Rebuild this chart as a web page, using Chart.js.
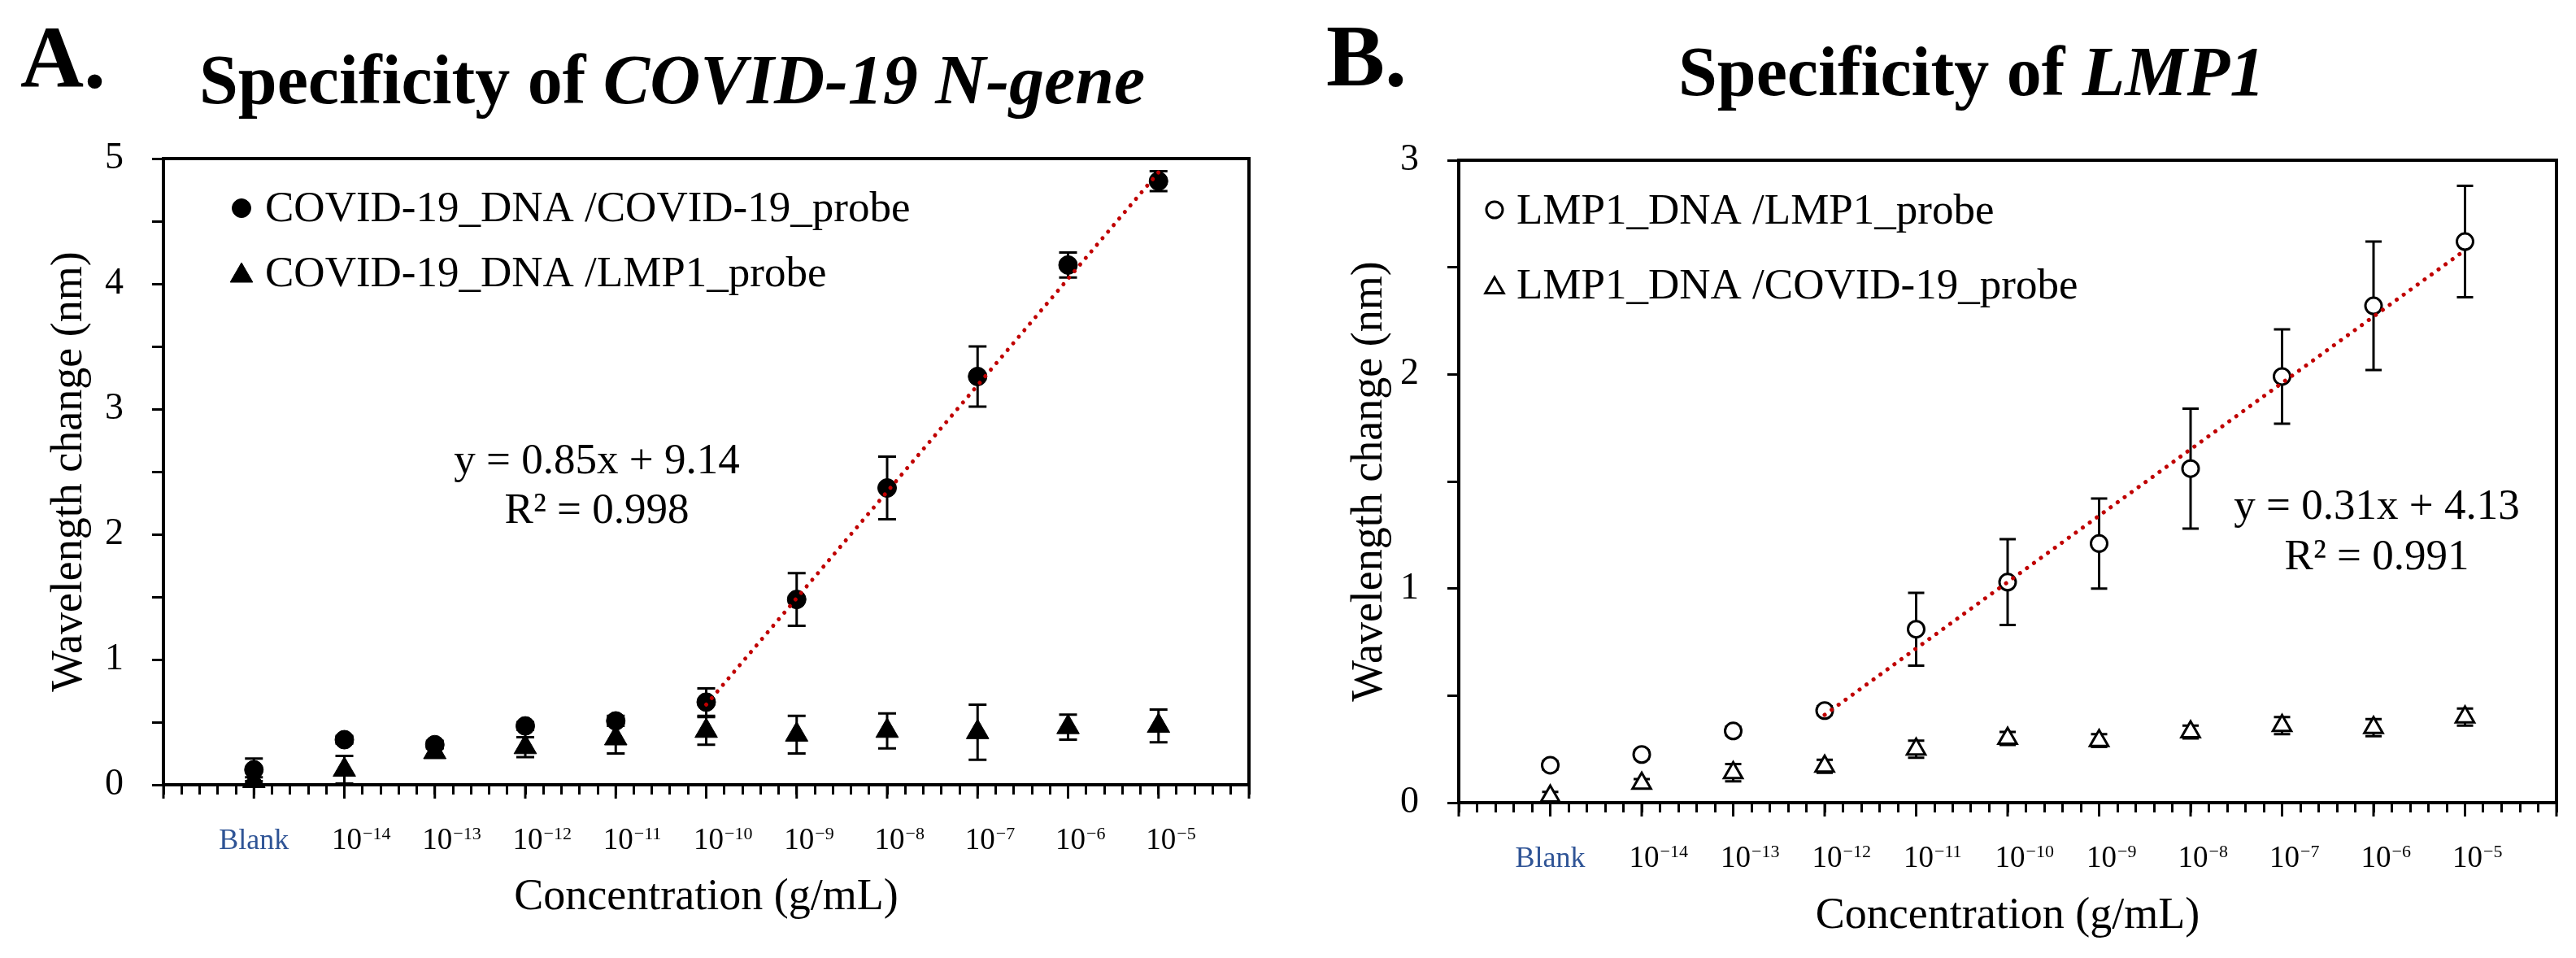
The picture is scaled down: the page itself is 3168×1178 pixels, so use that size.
<!DOCTYPE html>
<html>
<head>
<meta charset="utf-8">
<script src="https://cdn.jsdelivr.net/npm/chart.js@4.4.0/dist/chart.umd.min.js"></script>
<style>
  html, body { margin: 0; padding: 0; background: #fff; }
  #wrap { display: flex; width: 3168px; height: 1178px; }
  canvas { display: block; }
</style>
</head>
<body>
<div id="wrap">
  <canvas id="chartA" width="1584" height="1178"></canvas>
  <canvas id="chartB" width="1584" height="1178"></canvas>
</div>
<script>
const FONT = "'Liberation Serif', 'Times New Roman', Times, serif";

// x categories (index 0..10) and their log10 concentration
const categories = ['Blank', '10^-14', '10^-13', '10^-12', '10^-11', '10^-10', '10^-9', '10^-8', '10^-7', '10^-6', '10^-5'];
const logConc = [null, -14, -13, -12, -11, -10, -9, -8, -7, -6, -5];

// panel A: COVID-19 DNA
const covidCovid    = [0.12, 0.36, 0.32, 0.47, 0.51, 0.66, 1.48, 2.37, 3.26, 4.15, 4.82];
const covidCovidErr = [0.09, 0.03, 0.03, 0.03, 0.04, 0.11, 0.21, 0.25, 0.24, 0.10, 0.08];
const covidLmp1     = [0.03, 0.12, 0.26, 0.30, 0.37, 0.43, 0.40, 0.43, 0.42, 0.46, 0.47];
const covidLmp1Err  = [0.03, 0.11, 0.04, 0.08, 0.12, 0.11, 0.15, 0.14, 0.22, 0.10, 0.13];
const fitCovid = [0.85, 9.14, 0.998];   // slope, intercept, R²
const fitRangeCovid = [5, 10];

// panel B: LMP1 DNA
const lmp1Lmp1     = [0.175, 0.225, 0.335, 0.43, 0.81, 1.03, 1.21, 1.56, 1.99, 2.32, 2.62];
const lmp1Lmp1Err  = [0.02, 0.02, 0.02, 0.02, 0.17, 0.20, 0.21, 0.28, 0.22, 0.30, 0.26];
const lmp1Covid    = [0.03, 0.09, 0.14, 0.17, 0.25, 0.30, 0.29, 0.33, 0.36, 0.35, 0.40];
const lmp1CovidErr = [0.02, 0.02, 0.04, 0.03, 0.04, 0.03, 0.03, 0.03, 0.04, 0.04, 0.04];
const fitLmp1 = [0.31, 4.13, 0.991];
const fitRangeLmp1 = [3, 10];

function points(values) {
  return values.map((v, i) => ({x: i, y: v}));
}

function trend(fit, range) {
  return range.map(i => ({x: i, y: fit[0] * logConc[i] + fit[1]}));
}

function panelPlugin(cfg) {
  return {
    id: 'panel' + cfg.letter,
    beforeDatasetsDraw(chart) {
      const ctx = chart.ctx;
      const y = chart.scales.y;
      ctx.save();
      ctx.strokeStyle = '#000';
      ctx.lineWidth = 3;
      chart.data.datasets.forEach((ds, di) => {
        if (!ds.errors) return;
        chart.getDatasetMeta(di).data.forEach((pt, i) => {
          const v = ds.data[i].y, e = ds.errors[i];
          const top = y.getPixelForValue(v + e), bot = y.getPixelForValue(v - e);
          ctx.beginPath();
          ctx.moveTo(pt.x, top); ctx.lineTo(pt.x, bot);
          ctx.moveTo(pt.x - cfg.cap, top); ctx.lineTo(pt.x + cfg.cap, top);
          ctx.moveTo(pt.x - cfg.cap, bot); ctx.lineTo(pt.x + cfg.cap, bot);
          ctx.stroke();
        });
      });
      ctx.restore();
    },
    afterDraw(chart) {
      const {ctx, chartArea: a} = chart;
      const x = chart.scales.x;
      ctx.save();

      // frame top + right
      ctx.strokeStyle = '#000';
      ctx.lineWidth = 4;
      ctx.beginPath();
      ctx.moveTo(a.left - 2, a.top);
      ctx.lineTo(a.right, a.top);
      ctx.lineTo(a.right, a.bottom + 2);
      ctx.stroke();

      // longer ticks at each category
      ctx.lineWidth = 3;
      for (let v = x.min; v <= x.max; v++) {
        const px = x.getPixelForValue(v);
        ctx.beginPath();
        ctx.moveTo(px, a.bottom);
        ctx.lineTo(px, a.bottom + 17);
        ctx.stroke();
      }

      // category labels with raised exponents
      const base = a.bottom + 79;
      categories.forEach((lab, i) => {
        const px = x.getPixelForValue(i);
        if (lab.indexOf('^') < 0) {
          ctx.font = '36px ' + FONT;
          ctx.fillStyle = '#2F5496';
          ctx.textAlign = 'center';
          ctx.fillText(lab, px, base);
          return;
        }
        const [b, exp] = lab.split('^');
        ctx.fillStyle = '#000';
        ctx.font = '37px ' + FONT;
        ctx.textAlign = 'center';
        ctx.fillText(b, px + 3, base);
        const w = ctx.measureText(b).width;
        ctx.font = '22px ' + FONT;
        ctx.textAlign = 'left';
        ctx.fillText(exp.replace('-', '\u2212'), px + 3 + w / 2 + 1, base - 12);
      });

      // legend
      ctx.font = '53px ' + FONT;
      ctx.textAlign = 'left';
      cfg.legend.forEach((item, i) => {
        const by = cfg.legendY[i];
        ctx.fillStyle = item.fill;
        ctx.strokeStyle = '#000';
        ctx.lineWidth = item.border;
        Chart.helpers.drawPoint(ctx, {pointStyle: item.style, radius: item.radius, borderWidth: item.border, rotation: 0},
          cfg.legendX, by - item.lift);
        ctx.fillStyle = '#000';
        ctx.fillText(item.text, cfg.legendTextX, by);
      });

      // fit equation
      const fit = cfg.fit;
      ctx.textAlign = 'center';
      ctx.fillText('y = ' + fit[0].toFixed(2) + 'x + ' + fit[1].toFixed(2), cfg.eqX, cfg.eqY[0]);
      ctx.fillText('R\u00B2 = ' + fit[2].toFixed(3), cfg.eqX, cfg.eqY[1]);

      // panel letter + title
      ctx.textAlign = 'left';
      ctx.font = 'bold 108px ' + FONT;
      ctx.fillText(cfg.letter + '.', cfg.letterX, cfg.letterY);
      let tx = cfg.titleX;
      cfg.title.forEach(([txt, style]) => {
        ctx.font = style + ' 86px ' + FONT;
        ctx.fillText(txt, tx, cfg.titleY);
        tx += ctx.measureText(txt).width;
      });
      ctx.restore();
    }
  };
}

function makeChart(id, p) {
  return new Chart(document.getElementById(id), {
    type: 'scatter',
    data: {
      datasets: [
        {
          label: 'fit',
          data: trend(p.fit, p.fitRange),
          showLine: true,
          borderColor: '#C00000',
          borderWidth: 5,
          borderDash: [0.1, 10.5],
          borderCapStyle: 'round',
          pointRadius: 0,
          order: 0,
          clip: false
        },
        {
          label: p.legend[0].text,
          data: points(p.series[0]),
          errors: p.errors[0],
          pointStyle: 'circle',
          pointRadius: p.legend[0].radius,
          pointBackgroundColor: p.legend[0].fill,
          pointBorderColor: '#000',
          pointBorderWidth: p.legend[0].border,
          order: 1,
          clip: false
        },
        {
          label: p.legend[1].text,
          data: points(p.series[1]),
          errors: p.errors[1],
          pointStyle: 'triangle',
          pointRadius: p.legend[1].radius,
          pointBackgroundColor: p.legend[1].fill,
          pointBorderColor: '#000',
          pointBorderWidth: p.legend[1].border,
          order: 2,
          clip: false
        }
      ]
    },
    options: {
      responsive: false,
      devicePixelRatio: 1,
      animation: false,
      events: [],
      layout: {padding: {left: 0, top: p.top, right: p.right, bottom: 0}},
      plugins: {legend: {display: false}, tooltip: {enabled: false}},
      scales: {
        x: {
          type: 'linear',
          min: -1,
          max: 11,
          afterFit: (s) => { s.height = 1178 - p.bottom; },
          border: {display: true, color: '#000', width: 4},
          grid: {drawOnChartArea: false, color: '#000', tickLength: 12, tickWidth: 3},
          ticks: {display: false, stepSize: 0.2, autoSkip: false},
          title: {
            display: true,
            text: 'Concentration (g/mL)',
            color: '#000',
            font: {family: FONT, size: 54},
            padding: {top: 0, bottom: p.xTitlePad}
          }
        },
        y: {
          min: 0,
          max: p.yMax,
          afterFit: (s) => { s.width = p.left; },
          border: {display: true, color: '#000', width: 4},
          grid: {drawOnChartArea: false, color: '#000', tickLength: 14, tickWidth: 3},
          ticks: {
            stepSize: 0.5,
            padding: 35,
            color: '#000',
            font: {family: FONT, size: 46},
            callback: (v) => Number.isInteger(v) ? String(v) : ''
          },
          title: {
            display: true,
            text: 'Wavelength change (nm)',
            color: '#000',
            font: {family: FONT, size: 54},
            padding: {top: p.yTitlePad, bottom: 0}
          }
        }
      }
    },
    plugins: [panelPlugin(p)]
  });
}

makeChart('chartA', {
  letter: 'A', letterX: 25, letterY: 107,
  title: [['Specificity of ', 'bold'], ['COVID-19 N-gene', 'italic bold']],
  titleX: 245, titleY: 127,
  series: [covidCovid, covidLmp1],
  errors: [covidCovidErr, covidLmp1Err],
  fit: fitCovid, fitRange: fitRangeCovid,
  legend: [
    {text: 'COVID-19_DNA /COVID-19_probe', style: 'circle', radius: 11.5, fill: '#000', border: 1, lift: 16},
    {text: 'COVID-19_DNA /LMP1_probe', style: 'triangle', radius: 16, fill: '#000', border: 1, lift: 13}
  ],
  legendX: 297, legendTextX: 326, legendY: [272, 352],
  eqX: 734, eqY: [582, 643],
  cap: 11,
  yMax: 5,
  left: 201, right: 48, top: 195, bottom: 965,
  xTitlePad: 42, yTitlePad: 53
});

makeChart('chartB', {
  letter: 'B', letterX: 47, letterY: 105,
  title: [['Specificity of ', 'bold'], ['LMP1', 'italic bold']],
  titleX: 480, titleY: 117,
  series: [lmp1Lmp1, lmp1Covid],
  errors: [lmp1Lmp1Err, lmp1CovidErr],
  fit: fitLmp1, fitRange: fitRangeLmp1,
  legend: [
    {text: 'LMP1_DNA /LMP1_probe', style: 'circle', radius: 10, fill: '#fff', border: 3, lift: 17},
    {text: 'LMP1_DNA /COVID-19_probe', style: 'triangle', radius: 13, fill: '#fff', border: 3, lift: 13}
  ],
  legendX: 254, legendTextX: 281, legendY: [275, 367],
  eqX: 1339, eqY: [638, 700],
  cap: 10,
  yMax: 3,
  left: 210, right: 24, top: 197, bottom: 987,
  xTitlePad: 19, yTitlePad: 68
});
</script>
</body>
</html>
